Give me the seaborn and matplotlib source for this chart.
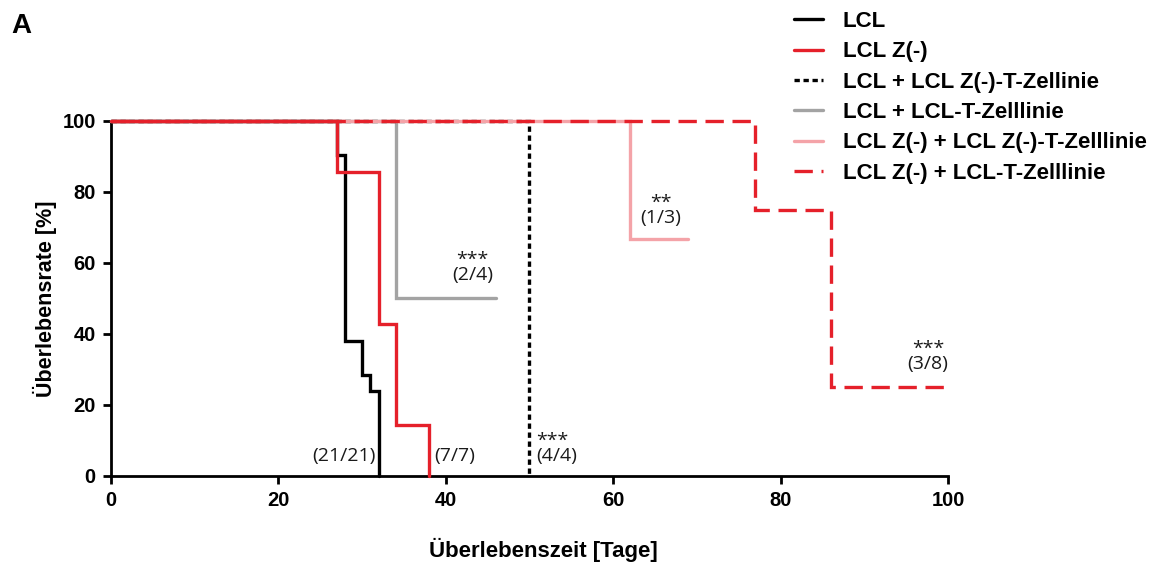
import matplotlib
matplotlib.use("Agg")
import matplotlib.pyplot as plt
import seaborn as sns
import pandas as pd

# Kaplan-Meier step data (days, survival in %)
lcl_days = [0, 27, 28, 30, 31, 32]
lcl_surv = [100, 90.48, 38.10, 28.57, 23.81, 0]

lclz_days = [0, 27, 32, 34, 38]
lclz_surv = [100, 85.71, 42.86, 14.29, 0]

lcl_tz_days = [0, 50]
lcl_tz_surv = [100, 0]

lcl_tl_days = [0, 34, 46]
lcl_tl_surv = [100, 50, 50]

lclz_tz_days = [0, 62, 69]
lclz_tz_surv = [100, 66.67, 66.67]

lclz_tl_days = [0, 77, 86, 100]
lclz_tl_surv = [100, 75, 25, 25]

labels = [
    "LCL",
    "LCL Z(-)",
    "LCL + LCL Z(-)-T-Zellinie",
    "LCL + LCL-T-Zelllinie",
    "LCL Z(-) + LCL Z(-)-T-Zelllinie",
    "LCL Z(-) + LCL-T-Zelllinie",
]

# fraction annotations: text, x, y
ann_texts = ["(21/21)", "(7/7)", "***\n(4/4)", "***\n(2/4)", "**\n(1/3)", "***\n(3/8)"]
ann_x = [31.6, 38.6, 50.8, 43.2, 65.7, 97.6]
ann_y = [3.0, 3.0, 3.0, 54.0, 70.0, 29.0]

sns.set_style("ticks")
plt.rcParams["font.family"] = ["Liberation Sans", "DejaVu Sans"]
plt.rcParams["text.color"] = "black"
plt.rcParams["axes.labelcolor"] = "black"
plt.rcParams["xtick.color"] = "black"
plt.rcParams["ytick.color"] = "black"

fig = plt.figure(figsize=(11.51, 5.67), dpi=100)
ax = fig.add_axes([0.0964, 0.1605, 0.7272, 0.6261])

red = "#E5202A"
series = [
    (lcl_days, lcl_surv, "black", "-", None, 2),
    (lcl_tl_days, lcl_tl_surv, "#A3A3A3", "-", None, 3),
    (lcl_tz_days, lcl_tz_surv, "black", "--", (1.6, 1.1), 4),
    (lclz_tz_days, lclz_tz_surv, "#F4A3A8", "-", None, 5),
    (lclz_days, lclz_surv, red, "-", None, 6),
    (lclz_tl_days, lclz_tl_surv, red, "--", (5.5, 2.6), 7),
]
order_idx = [0, 3, 2, 4, 1, 5]
handles = {}
for (d, s, c, ls, dash, z), li in zip(series, order_idx):
    df = pd.DataFrame({"Tage": d, "Rate": s})
    sns.lineplot(data=df, x="Tage", y="Rate", ax=ax, color=c, linewidth=2.4,
                 linestyle=ls, drawstyle="steps-post", estimator=None,
                 sort=False, zorder=z, clip_on=False)
    line = ax.get_lines()[-1]
    if dash:
        line.set_dashes(dash)
    line.set_solid_joinstyle("miter")
    line.set_dash_joinstyle("miter")
    handles[li] = line

ax.set_xlim(0, 100)
ax.set_ylim(0, 100)
ax.set_xticks([0, 20, 40, 60, 80, 100])
ax.set_yticks([0, 20, 40, 60, 80, 100])
for sp in ["top", "right"]:
    ax.spines[sp].set_visible(False)
for sp in ["left", "bottom"]:
    ax.spines[sp].set_linewidth(2.0)
    ax.spines[sp].set_color("black")
ax.tick_params(axis="both", width=2.0, length=6, direction="out",
               labelsize=14.5, pad=5, color="black", labelcolor="black")
for t in ax.get_xticklabels() + ax.get_yticklabels():
    t.set_fontweight("bold")

ax.set_xlabel("Überlebenszeit [Tage]", fontsize=16, fontweight="bold")
ax.set_ylabel("Überlebensrate [%]", fontsize=15.5, fontweight="bold")
ax.xaxis.set_label_coords(0.517, -0.175)
ax.yaxis.set_label_coords(-0.064, 0.5)

for txt, x, y in zip(ann_texts, ann_x, ann_y):
    ha = "right" if txt == "(21/21)" else ("left" if txt in ("(7/7)", "***\n(4/4)") else "center")
    ax.text(x, y, txt, ha=ha, va="bottom", fontsize=14, family="Open Sans",
            linespacing=0.8, color="#1a1a1a", zorder=10)

leg_handles = [handles[i] for i in range(6)]
fig.legend(leg_handles, labels, loc="upper left", bbox_to_anchor=(0.676, 1.008),
           frameon=False, prop={"weight": "bold", "size": 16},
           handlelength=1.3, handletextpad=0.9, labelspacing=0.42,
           borderaxespad=0.3, labelcolor="black")

fig.text(0.010, 0.955, "A", fontsize=20, fontweight="bold", va="center", color="black")

fig.savefig("out.png", dpi=100)
